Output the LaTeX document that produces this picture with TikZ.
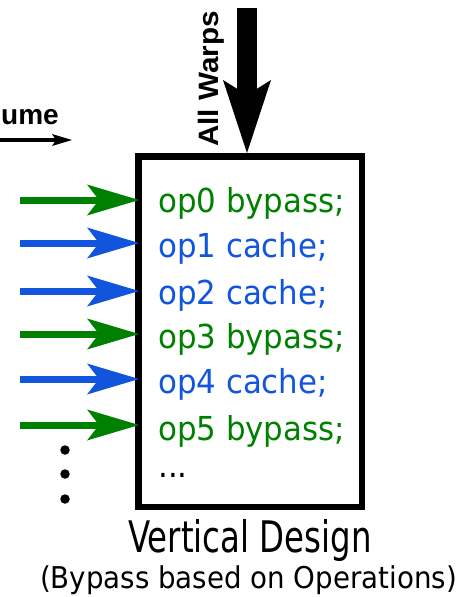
\documentclass[tikz,border=0pt]{standalone}
\usepackage{fontspec}
\usepackage{graphicx}
\setmainfont{DejaVu Sans}
\newfontfamily\labelfont{Liberation Sans}
\usetikzlibrary{arrows.meta}
\definecolor{opgreen}{RGB}{0,128,0}
\definecolor{opblue}{RGB}{17,85,221}
% horizontal squeeze/stretch of a text
\newcommand{\hsq}[2]{\scalebox{#1}[1]{#2}}
\begin{document}
\begin{tikzpicture}[x=1pt,y=-1pt,
  optext/.style={anchor=base west, inner sep=0pt, font=\fontsize{33}{40}\selectfont},
  oparrow/.style={line width=7pt, -{Stealth[length=52pt,width=31pt,inset=12pt,line width=0pt]}},
  boldlabel/.style={inner sep=0pt, font=\labelfont\bfseries\fontsize{28}{32}\selectfont},
  dotmark/.style={circle, fill=black, inner sep=0pt, minimum size=9.5pt},
  caption/.style={anchor=base, inner sep=0pt}
]
\useasboundingbox (0,0) rectangle (466,597);
\clip (0,0) rectangle (466,597);

% the design box
\node[draw, line width=6.5pt, minimum width=223.5pt, minimum height=350.5pt, inner sep=0pt] (box) at (250,331.5) {};
\coordinate (boxedge) at ([xshift=4pt]box.west);

% operations listed inside the box
\node[optext, text=opgreen] (op0) at (158,212) {\hsq{0.935}{op0 bypass;}};
\node[optext, text=opblue]  (op1) at (158,257) {\hsq{0.935}{op1 cache;}};
\node[optext, text=opblue]  (op2) at (158,304) {\hsq{0.935}{op2 cache;}};
\node[optext, text=opgreen] (op3) at (158,348) {\hsq{0.935}{op3 bypass;}};
\node[optext, text=opblue]  (op4) at (158,393) {\hsq{0.935}{op4 cache;}};
\node[optext, text=opgreen] (op5) at (158,440) {\hsq{0.935}{op5 bypass;}};
\node[optext] (more) at (158,477) {\hsq{0.935}{...}};

% incoming operation arrows
\coordinate (a0) at (20,200);
\coordinate (a1) at (20,243);
\coordinate (a2) at (20,291);
\coordinate (a3) at (20,334);
\coordinate (a4) at (20,379);
\coordinate (a5) at (20,425);
\draw[oparrow, opgreen] (a0) -- (boxedge |- a0);
\draw[oparrow, opblue]  (a1) -- (boxedge |- a1);
\draw[oparrow, opblue]  (a2) -- (boxedge |- a2);
\draw[oparrow, opgreen] (a3) -- (boxedge |- a3);
\draw[oparrow, opblue]  (a4) -- (boxedge |- a4);
\draw[oparrow, opgreen] (a5) -- (boxedge |- a5);

% vertical ellipsis
\node[dotmark] (d1) at (65,450) {};
\node[dotmark] (d2) at (65,474) {};
\node[dotmark] (d3) at (65,499) {};

% all warps entering from the top
\coordinate (wtop) at (247,8);
\draw[line width=20pt, -{Stealth[length=73pt,width=48pt,inset=15pt,line width=0pt]}] (wtop) -- (box.north -| wtop);
\node[boldlabel, rotate=90, anchor=base] (warps) at (218,79) {\hsq{1.06}{All Warps}};

% time axis
\node[boldlabel, anchor=base east] (ume) at (59,124) {ume};
\coordinate (tstart) at (-5,140);
\coordinate (tend) at (72,140);
\draw[line width=4pt, -{Stealth[length=20pt,width=12pt,inset=4pt,line width=0pt]}] (tstart) -- (tend);

% captions
\node[caption, font=\fontsize{43.5}{50}\selectfont] (title) at (250,552) {\hsq{0.745}{Vertical Design}};
\node[caption, font=\fontsize{30}{36}\selectfont] (subtitle) at (248.5,588) {\hsq{0.922}{(Bypass based on Operations)}};
\end{tikzpicture}
\end{document}
